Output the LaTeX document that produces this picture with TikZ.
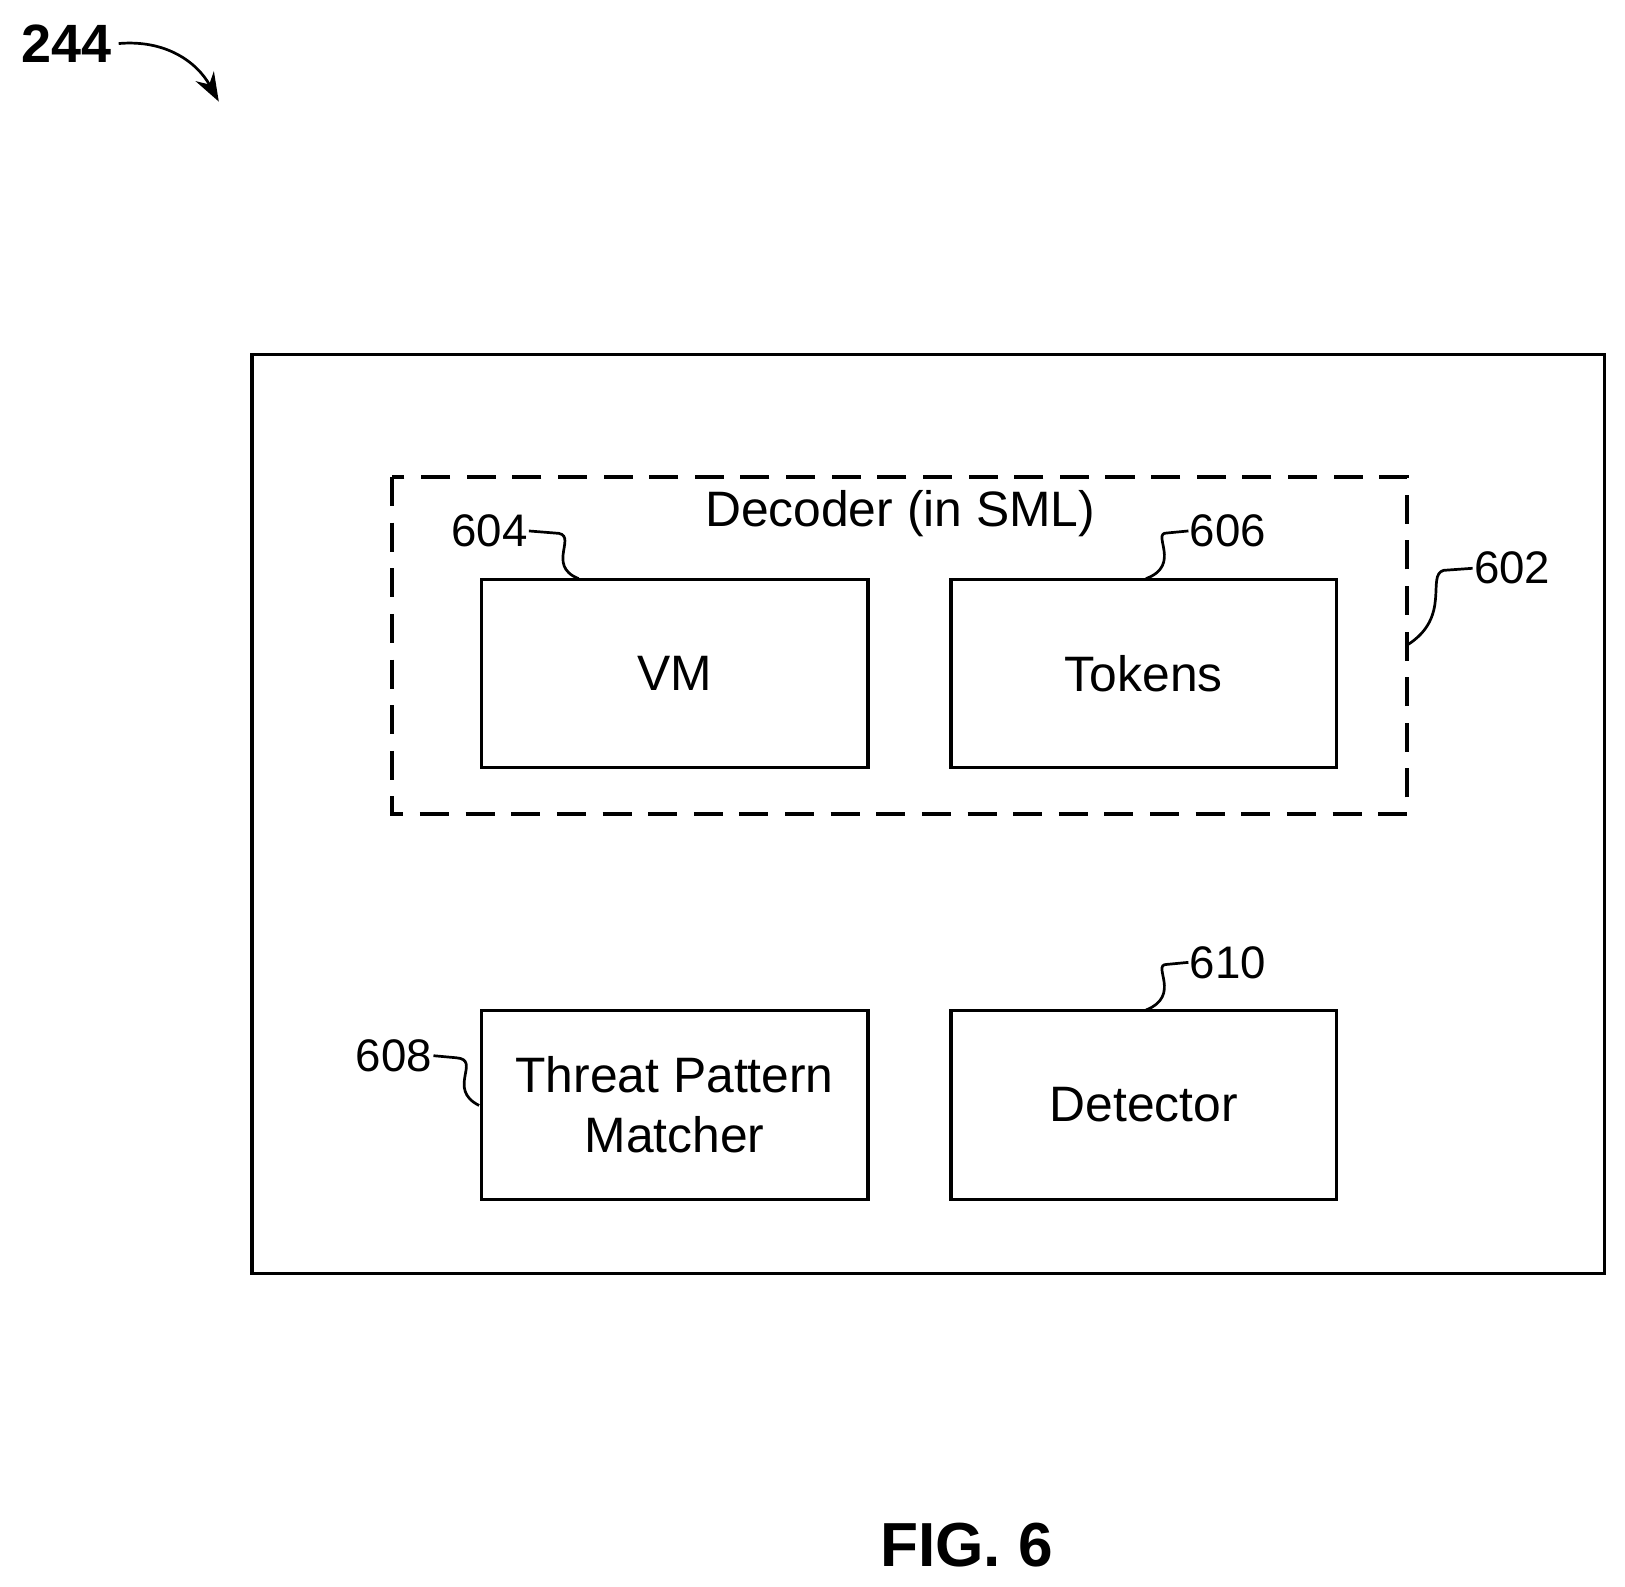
\documentclass[tikz,border=0pt]{standalone}
\usepackage{fontspec}
\setmainfont{Liberation Sans}
\usetikzlibrary{arrows.meta}
\begin{document}
\begin{tikzpicture}[x=0.5pt,y=-0.5pt,
  box/.style={draw,line width=1.5pt},
  lead/.style={line width=1.3pt},
  lbl/.style={font=\fontsize{22}{26}\selectfont,inner sep=0.5pt},
  txt/.style={font=\fontsize{24}{29}\selectfont,align=center}]
\useasboundingbox (0,0) rectangle (1567,1530);
\draw[box] (243,342) rectangle (1547,1228);
\draw[box,line width=1.8pt,dash pattern=on 14pt off 8pt] (378,460) rectangle (1357,785);
\node[txt] (dec) at (868,495) {Decoder (in SML)};
\draw[box] (464,559) rectangle node[txt] (vm) {VM} (837,740);
\draw[box] (917,559) rectangle node[txt] (tok) {Tokens} (1289,740);
\draw[box] (464,974) rectangle node[txt] (tpm) {Threat Pattern\\Matcher} (837,1157);
\draw[box] (917,974) rectangle node[txt] (det) {Detector} (1289,1157);
\node[lbl,anchor=east] (l604) at (510,512) {604};
\node[lbl,anchor=west] (l606) at (1146,512) {606};
\node[lbl,anchor=west] (l602) at (1420,548) {602};
\node[lbl,anchor=west] (l610) at (1146,928) {610};
\node[lbl,anchor=east] (l608) at (418,1018) {608};
\draw[lead] (l604.east) -- (535,514) .. controls (560,514) and (525,545) .. (558,558);
\draw[lead] (l606.west) -- (1125,514) .. controls (1110,514) and (1140,545) .. (1105,558);
\draw[lead] (l602.west) -- (1392,550) .. controls (1375,555) and (1400,595) .. (1357,622);
\draw[lead] (l610.west) -- (1125,930) .. controls (1110,930) and (1140,960) .. (1105,974);
\draw[lead] (l608.east) -- (440,1020) .. controls (465,1022) and (430,1050) .. (462,1066);
\node[font=\bfseries\fontsize{26}{30}\selectfont] (n244) at (64,42) {244};
\draw[lead,-{Stealth[length=14pt,width=10pt]}] (n244.east) .. controls (160,38) and (190,60) .. (211,98);
\node[font=\bfseries\fontsize{30}{36}\selectfont] (fig) at (932,1490) {FIG. 6};
\end{tikzpicture}
\end{document}
